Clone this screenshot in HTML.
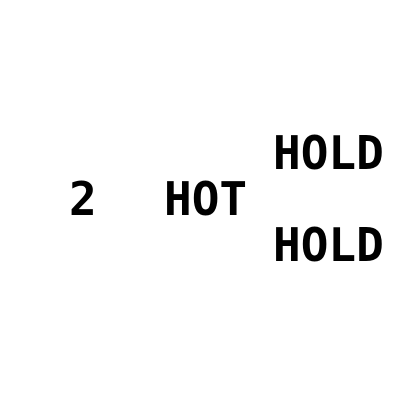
<!DOCTYPE html>
<html><head><meta charset="utf-8"><style>html,body{margin:0;padding:0;background:#fff}</style></head>
<body>
<svg width="400" height="400" xmlns="http://www.w3.org/2000/svg">
<rect width="400" height="400" fill="#fff"/>
<g font-family="'DejaVu Sans Mono', 'Liberation Mono', monospace" font-weight="bold" font-size="46" fill="#000">
<text x="273" y="169">HOLD</text>
<text x="164" y="215">HOT</text>
<text x="69" y="215">2</text>
<text x="273" y="261">HOLD</text>
</g>
</svg>
</body></html>
